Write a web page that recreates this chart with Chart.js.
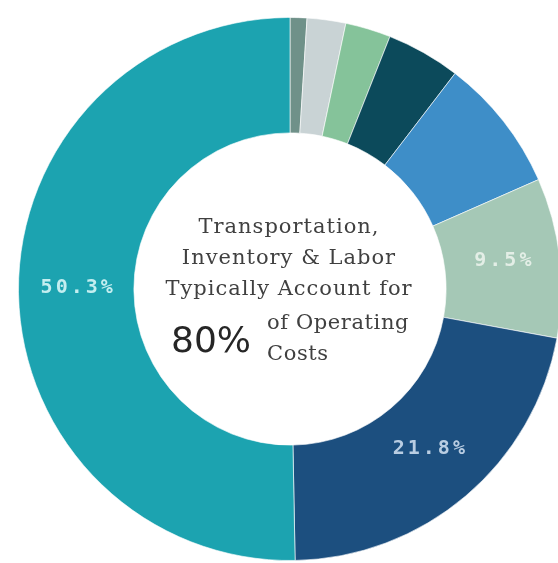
<!DOCTYPE html>
<html>
<head>
<meta charset="utf-8">
<script src="https://cdn.jsdelivr.net/npm/chart.js@4"></script>
<style>
  html, body { margin: 0; padding: 0; background: #ffffff; overflow: hidden; width: 558px; height: 563px; }
  #wrap { position: absolute; left: 18px; top: 17px; width: 544px; height: 544px; }
  .ct { position: absolute; font-family: "DejaVu Serif", serif; font-size: 21px; letter-spacing: 1px; color: #404040; white-space: nowrap; line-height: 1; }
  .c { left: 289px; transform: translate(-50%, -50%); }
  .big { position: absolute; font-family: "DejaVu Sans", sans-serif; font-size: 36px; color: #262626; line-height: 1; transform: translateY(-50%); white-space: nowrap; }
</style>
</head>
<body>
<div id="wrap"><canvas id="chart"></canvas></div>
<div class="ct c" style="top:226px">Transportation,</div>
<div class="ct c" style="top:257px">Inventory &amp; Labor</div>
<div class="ct c" style="top:288px">Typically Account for</div>
<div class="big" style="left:171px; top:340px">80%</div>
<div class="ct" style="left:267px; top:322px; transform: translateY(-50%); letter-spacing: 0.6px">of Operating</div>
<div class="ct" style="left:267px; top:353px; transform: translateY(-50%); letter-spacing: 0.6px">Costs</div>
<script>
const categories = ["Other A", "Other B", "Other C", "Other D", "Other E", "Segment F", "Segment G", "Segment H"];
const values = [1.0, 2.3, 2.7, 4.4, 8.0, 9.5, 21.8, 50.3];
const valueLabels = ["", "", "", "", "", "9.5%", "21.8%", "50.3%"];
const colors = ["#6f9189", "#c9d3d5", "#85c39a", "#0c4a5b", "#3e8ec8", "#a5c8b6", "#1c4f7f", "#1ca3b0"];
const labelColors = ["", "", "", "", "", "#e3eee6", "#b9cde2", "#c4eef0"];

const labelPlugin = {
  id: 'sliceLabels',
  afterDatasetsDraw(chart) {
    const ctx = chart.ctx;
    const meta = chart.getDatasetMeta(0);
    ctx.save();
    ctx.font = 'bold 20px "DejaVu Sans Mono", monospace';
    ctx.letterSpacing = '3px';
    ctx.textAlign = 'center';
    ctx.textBaseline = 'middle';
    meta.data.forEach((arc, i) => {
      const t = valueLabels[i];
      if (!t) return;
      const p = arc.tooltipPosition();
      ctx.fillStyle = labelColors[i];
      ctx.fillText(t, p.x + 2, p.y - 3);
    });
    ctx.restore();
  }
};

new Chart(document.getElementById('chart'), {
  type: 'doughnut',
  data: {
    labels: categories,
    datasets: [{
      data: values,
      backgroundColor: colors,
      borderColor: 'rgba(255,255,255,0.6)',
      borderWidth: 1
    }]
  },
  options: {
    responsive: true,
    maintainAspectRatio: false,
    animation: false,
    cutout: '57.5%',
    layout: { padding: 0 },
    plugins: { legend: { display: false }, tooltip: { enabled: false } }
  },
  plugins: [labelPlugin]
});
</script>
</body>
</html>
